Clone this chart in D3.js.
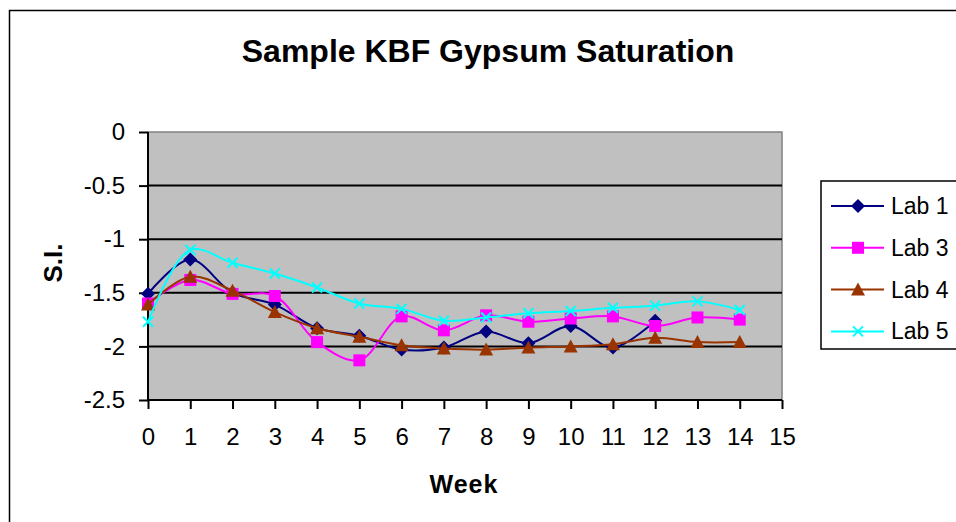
<!DOCTYPE html>
<html>
<head>
<meta charset="utf-8">
<script src="https://cdn.jsdelivr.net/npm/d3@7"></script>
<style>
  html, body { margin: 0; padding: 0; background: #fff; }
  svg { display: block; font-family: "Liberation Sans", Arial, sans-serif; }
</style>
</head>
<body>
<svg id="chart" width="956" height="522"></svg>
<script>
// Chart data
const weeks = [0, 1, 2, 3, 4, 5, 6, 7, 8, 9, 10, 11, 12, 13, 14];
const lab1 = [-1.51, -1.19, -1.50, -1.61, -1.83, -1.90, -2.03, -2.01, -1.86, -1.97, -1.81, -2.01, -1.76];
const lab3 = [-1.60, -1.38, -1.51, -1.53, -1.96, -2.13, -1.72, -1.85, -1.71, -1.77, -1.74, -1.72, -1.81, -1.73, -1.75];
const lab4 = [-1.61, -1.35, -1.48, -1.68, -1.83, -1.91, -1.99, -2.02, -2.03, -2.01, -2.00, -1.98, -1.92, -1.96, -1.96];
const lab5 = [-1.77, -1.10, -1.22, -1.32, -1.45, -1.60, -1.65, -1.76, -1.73, -1.69, -1.67, -1.64, -1.62, -1.58, -1.66];
const seriesNames = ['Lab 1', 'Lab 3', 'Lab 4', 'Lab 5'];
const xTicks = d3.range(0, 16);
const yTicks = [0, -0.5, -1, -1.5, -2, -2.5];

const series = [
  { name: seriesNames[0], values: lab1, color: '#000080', symbol: 'diamond' },
  { name: seriesNames[1], values: lab3, color: '#FF00FF', symbol: 'square' },
  { name: seriesNames[2], values: lab4, color: '#993300', symbol: 'triangle' },
  { name: seriesNames[3], values: lab5, color: '#00FFFF', symbol: 'cross' },
];

const svg = d3.select('#chart');
const plot = { left: 148, top: 132, right: 782, bottom: 400 };

const x = d3.scaleLinear().domain([0, 15]).range([plot.left, plot.right]);
const y = d3.scaleLinear().domain([-2.5, 0]).range([plot.bottom, plot.top]);

// plain hyphen for negatives, like the original
const yFmt = d => String(d);

// outer chart border
svg.append('rect')
  .attr('x', 9.5).attr('y', 10.5)
  .attr('width', 960).attr('height', 530)
  .attr('fill', 'none').attr('stroke', '#000').attr('stroke-width', 1.5);

// title
svg.append('text')
  .attr('x', 488).attr('y', 62)
  .attr('text-anchor', 'middle')
  .attr('font-size', 32).attr('font-weight', 'bold')
  .text('Sample KBF Gypsum Saturation');

// plot background
svg.append('rect')
  .attr('x', plot.left).attr('y', plot.top)
  .attr('width', plot.right - plot.left).attr('height', plot.bottom - plot.top)
  .attr('fill', '#C0C0C0').attr('stroke', '#808080').attr('stroke-width', 1.5);

// gridlines
svg.append('g')
  .selectAll('line')
  .data(yTicks.filter(d => d !== 0 && d !== -2.5))
  .join('line')
  .attr('x1', plot.left).attr('x2', plot.right)
  .attr('y1', d => y(d)).attr('y2', d => y(d))
  .attr('stroke', '#000').attr('stroke-width', 2);

// axes
const yAxis = svg.append('g')
  .attr('transform', `translate(${plot.left},0)`)
  .call(d3.axisLeft(y).tickValues(yTicks).tickSize(9).tickPadding(14).tickFormat(yFmt));
const xAxis = svg.append('g')
  .attr('transform', `translate(0,${plot.bottom})`)
  .call(d3.axisBottom(x).tickValues(xTicks).tickSize(9).tickPadding(19).tickFormat(d3.format('d')));

[yAxis, xAxis].forEach(g => {
  g.select('.domain').attr('stroke', '#000').attr('stroke-width', 2);
  g.selectAll('.tick line').attr('stroke', '#000').attr('stroke-width', 2);
  g.selectAll('.tick text')
    .attr('fill', '#000')
    .attr('font-size', 24)
    .attr('font-family', '"Liberation Sans", Arial, sans-serif');
});
// drop the outer ticks of the domain path
yAxis.select('.domain').attr('d', `M0,${plot.top}V${plot.bottom}`);
xAxis.select('.domain').attr('d', `M${plot.left},0H${plot.right}`);

// axis titles
svg.append('text')
  .attr('transform', `translate(62,263) rotate(-90)`)
  .attr('text-anchor', 'middle')
  .attr('font-size', 26).attr('font-weight', 'bold')
  .text('S.I.');
svg.append('text')
  .attr('x', 464).attr('y', 493)
  .attr('text-anchor', 'middle')
  .attr('font-size', 25).attr('font-weight', 'bold')
  .attr('letter-spacing', 1)
  .text('Week');

// marker shapes
function marker(sel, symbol, color) {
  if (symbol === 'diamond') {
    sel.append('path').attr('d', 'M0,-7L7,0L0,7L-7,0Z').attr('fill', color);
  } else if (symbol === 'square') {
    sel.append('rect').attr('x', -6).attr('y', -6).attr('width', 12).attr('height', 12).attr('fill', color);
  } else if (symbol === 'triangle') {
    sel.append('path').attr('d', 'M0,-7L7,6L-7,6Z').attr('fill', color);
  } else {
    sel.append('path').attr('d', 'M-5,-5L5,5M-5,5L5,-5')
      .attr('stroke', color).attr('stroke-width', 2).attr('fill', 'none');
  }
}

const line = d3.line()
  .x((d, i) => x(weeks[i]))
  .y(d => y(d))
  .curve(d3.curveCatmullRom.alpha(0.5));

series.forEach(s => {
  const g = svg.append('g');
  g.append('path')
    .attr('d', line(s.values))
    .attr('fill', 'none')
    .attr('stroke', s.color)
    .attr('stroke-width', 2);
  g.selectAll('g.pt')
    .data(s.values)
    .join('g')
    .attr('class', 'pt')
    .attr('transform', (d, i) => `translate(${x(weeks[i])},${y(d)})`)
    .each(function() { marker(d3.select(this), s.symbol, s.color); });
});

// legend
const legend = svg.append('g');
legend.append('rect')
  .attr('x', 821).attr('y', 181)
  .attr('width', 150).attr('height', 168)
  .attr('fill', '#fff').attr('stroke', '#000').attr('stroke-width', 1.5);
series.forEach((s, i) => {
  const ly = 206 + i * 41.8;
  const item = legend.append('g');
  item.append('line')
    .attr('x1', 831).attr('x2', 884)
    .attr('y1', ly).attr('y2', ly)
    .attr('stroke', s.color).attr('stroke-width', 2);
  marker(item.append('g').attr('transform', `translate(858,${ly})`), s.symbol, s.color);
  item.append('text')
    .attr('x', 891).attr('y', ly + 8)
    .attr('font-size', 23)
    .text(s.name);
});
</script>
</body>
</html>
